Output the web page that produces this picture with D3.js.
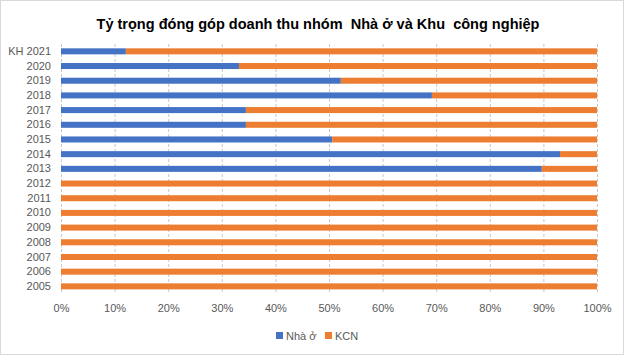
<!DOCTYPE html>
<html><head><meta charset="utf-8">
<script src="https://cdn.jsdelivr.net/npm/d3@7"></script>
<style>body{margin:0;background:#fff;}svg{display:block;font-family:"Liberation Sans",Arial,sans-serif;}</style>
</head><body>
<script>
const categories = ["KH 2021","2020","2019","2018","2017","2016","2015","2014","2013","2012","2011","2010","2009","2008","2007","2006","2005"];
const nhaO = [12.1,33.2,52.2,69.2,34.5,34.5,50.6,93.1,89.7,0,0,0,0,0,0,0,0];
const kcn = nhaO.map(v => 100 - v);
const seriesNames = ["Nhà ở","KCN"];
const colors = ["#4472C4","#ED7D31"];
const xTicks = [0,10,20,30,40,50,60,70,80,90,100];

const W = 625, H = 356;
const svg = d3.select("body").append("svg").attr("width", W).attr("height", H);
svg.append("rect").attr("x",0.5).attr("y",0.5).attr("width",W-2).attr("height",H-2)
  .attr("fill","#fff").attr("stroke","#d9d9d9");

const x = d3.scaleLinear().domain([0,100]).range([61,597]);
const y = d3.scaleBand().domain(categories).range([44,293.7]).paddingInner(0.59).paddingOuter(0.295);

svg.append("text").attr("x",318).attr("y",29).attr("text-anchor","middle")
  .attr("font-size",15).attr("font-weight","bold").attr("fill","#000")
  .attr("textLength",443).attr("lengthAdjust","spacingAndGlyphs")
  .text("Tỷ trọng đóng góp doanh thu nhóm  Nhà ở và Khu  công nghiệp").style("white-space","pre");

// grid
svg.append("g").selectAll("line").data(xTicks).join("line")
  .attr("x1",d=>x(d)+0.5).attr("x2",d=>x(d)+0.5).attr("y1",44).attr("y2",294)
  .attr("stroke","#c8c8c8").attr("stroke-dasharray","3,2");

const stacked = categories.map((c,i)=>({c, a:nhaO[i], b:kcn[i]}));
svg.append("g").selectAll("rect").data(stacked).join("rect")
  .attr("x",d=>x(0)).attr("width",d=>x(d.a)-x(0)).attr("y",d=>y(d.c)).attr("height",y.bandwidth())
  .attr("fill",colors[0]);
svg.append("g").selectAll("rect").data(stacked).join("rect")
  .attr("x",d=>x(d.a)).attr("width",d=>x(d.a+d.b)-x(d.a)).attr("y",d=>y(d.c)).attr("height",y.bandwidth())
  .attr("fill",colors[1]);

// y axis labels
const yAxis = d3.axisLeft(y).tickSize(0).tickPadding(0);
const gy = svg.append("g").attr("transform","translate(51,0)").call(yAxis);
gy.select(".domain").remove();
gy.selectAll("text").attr("font-size",11).attr("fill","#595959").attr("font-family","Liberation Sans, Arial, sans-serif");

// x axis labels
const xAxis = d3.axisBottom(x).tickValues(xTicks).tickFormat(d=>d+"%").tickSize(0).tickPadding(0);
const gx = svg.append("g").attr("transform","translate(0,304)").call(xAxis);
gx.select(".domain").remove();
gx.selectAll("text").attr("font-size",11).attr("fill","#595959").attr("font-family","Liberation Sans, Arial, sans-serif");

// legend
const legendX = [276, 325];
const lg = svg.append("g").selectAll("g").data(seriesNames).join("g")
  .attr("transform",(d,i)=>`translate(${legendX[i]},332)`);
lg.append("rect").attr("width",7).attr("height",7).attr("fill",(d,i)=>colors[i]);
lg.append("text").attr("x",10).attr("y",7.5).attr("font-size",11).attr("fill","#595959").text(d=>d);
</script>
</body></html>
